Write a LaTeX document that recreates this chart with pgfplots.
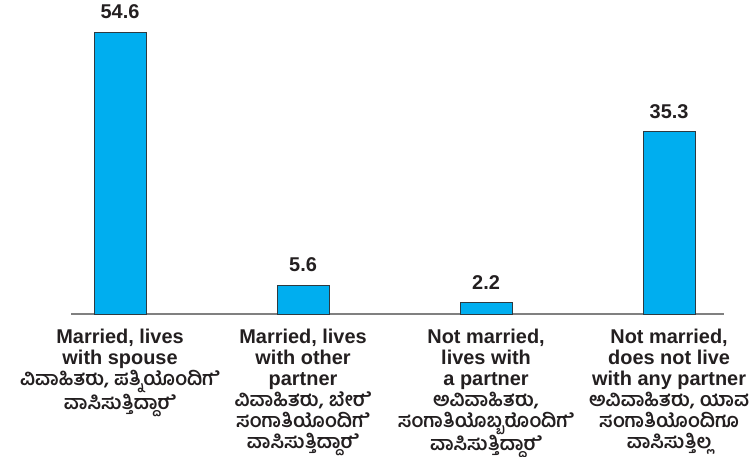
\documentclass[border=0pt]{standalone}
\usepackage{fontspec}
\setmainfont{Liberation Sans}
\newfontfamily\kn[Script=Kannada]{Hind Mysuru}
\usepackage{pgfplots}
\pgfplotsset{compat=1.18}
\definecolor{barblue}{HTML}{00AEEF}
\definecolor{edgec}{HTML}{2E3A40}
\definecolor{axisc}{HTML}{808080}
\definecolor{txt}{HTML}{231F20}
\newcommand{\kl}{\kn\bfseries\fontsize{19.5}{22}\selectfont}
\newcommand{\zj}{^^^^200d}
\begin{document}
\begin{tikzpicture}
\useasboundingbox (-71bp,-143bp) rectangle (680bp,314bp);
\begin{axis}[
  at={(0,0)}, anchor=south west,
  scale only axis, width=653bp, height=289bp,
  xmin=-0.268, xmax=3.30, ymin=0, ymax=56,
  clip=false,
  axis x line=bottom, axis y line=none,
  axis line style={-, draw=axisc, line width=1.5bp},
  xtick={0,1,2,3},
  major tick length=0pt,
  xticklabels={
    {Married, lives\\with spouse\\{\kl ವಿವಾಹಿತರು, ಪತ್ನಿಯೊಂದಿಗ\zj ೆ}\\{\kl ವಾಸಿಸುತ್ತಿದ್ದಾರ\zj ೆ}},
    {Married, lives\\with other\\partner\\{\kl ವಿವಾಹಿತರು, ಬೇರ\zj ೆ}\\{\kl ಸಂಗಾತಿಯೊಂದಿಗ\zj ೆ}\\{\kl ವಾಸಿಸುತ್ತಿದ್ದಾರ\zj ೆ}},
    {Not married,\\lives with\\a partner\\{\kl ಅವಿವಾಹಿತರು,}\\{\kl ಸಂಗಾತಿಯೊಬ್ಬರೊಂದಿಗ\zj ೆ}\\{\kl ವಾಸಿಸುತ್ತಿದ್ದಾರ\zj ೆ}},
    {Not married,\\does not live\\with any partner\\{\kl ಅವಿವಾಹಿತರು, ಯಾವ}\\{\kl ಸಂಗಾತಿಯೊಂದಿಗೂ}\\{\kl ವಾಸಿಸುತ್ತಿಲ್ಲ}}
  },
  xticklabel style={align=center, anchor=north, inner sep=0pt, yshift=-15bp,
    font=\bfseries\fontsize{20}{21}\selectfont, text=txt},
  ybar, bar width=0.284,
  /pgf/number format/assume math mode=true,
  nodes near coords,
  nodes near coords style={font=\bfseries\fontsize{20}{24}\selectfont, inner sep=0pt,
    anchor=south, yshift=13bp, text=txt},
]
\addplot[fill=barblue, draw=edgec, line width=0.8bp] coordinates {(0,54.6) (1,5.6) (2,2.2) (3,35.3)};
\end{axis}
\end{tikzpicture}
\end{document}
